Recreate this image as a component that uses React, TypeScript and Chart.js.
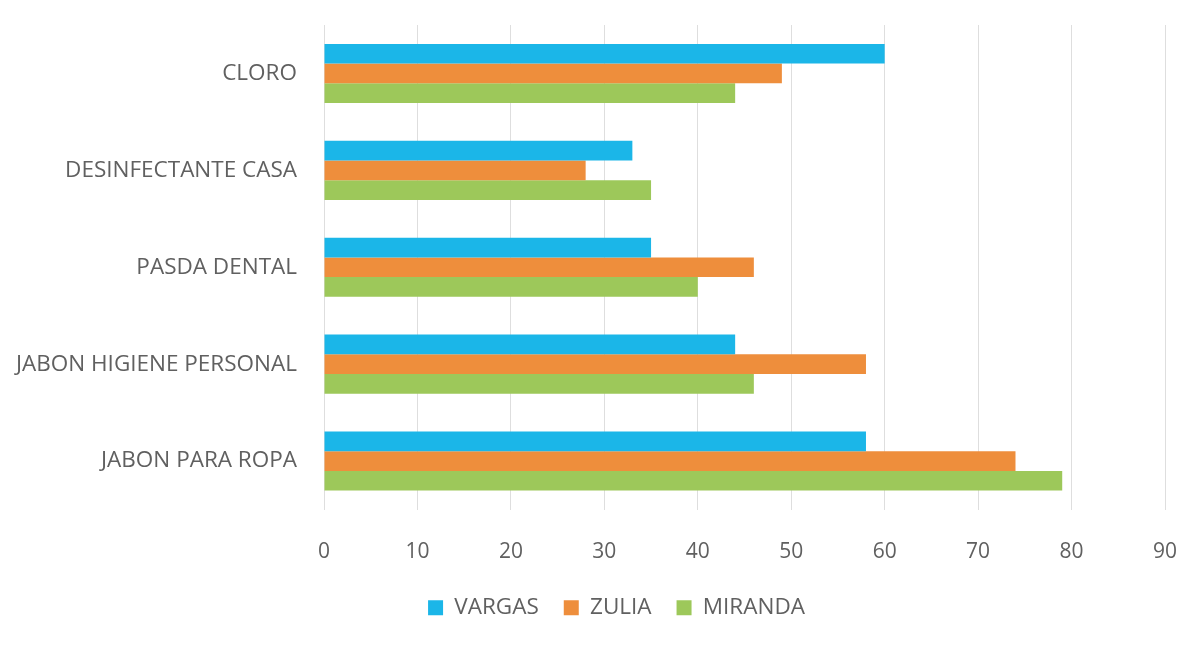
import React, { useEffect, useRef } from "react";
import { Chart, registerables } from "chart.js";

Chart.register(...registerables);

const categories = [
  "CLORO",
  "DESINFECTANTE CASA",
  "PASDA DENTAL",
  "JABON HIGIENE PERSONAL",
  "JABON PARA ROPA",
];
const vargas = [60, 33, 35, 44, 58];
const zulia = [49, 28, 46, 58, 74];
const miranda = [44, 35, 40, 46, 79];
const xTicks = [0, 10, 20, 30, 40, 50, 60, 70, 80, 90];

const FONT = "'Open Sans', 'Liberation Sans', sans-serif";
const TEXT = "#606060";

const legendShift = {
  id: "legendShift",
  afterLayout(chart: any) {
    const lg = chart.legend;
    if (lg) {
      lg.left += 34;
      lg.right += 34;
    }
  },
};

export default function App() {
  const ref = useRef<HTMLCanvasElement | null>(null);
  useEffect(() => {
    if (!ref.current) return;
    const chart = new Chart(ref.current, {
      type: "bar",
      data: {
        labels: categories,
        datasets: [
          { label: "VARGAS", data: vargas, backgroundColor: "#1bb6e8" },
          { label: "ZULIA", data: zulia, backgroundColor: "#ee8e3c" },
          { label: "MIRANDA", data: miranda, backgroundColor: "#9dc85a" },
        ],
      },
      plugins: [legendShift],
      options: {
        indexAxis: "y",
        responsive: false,
        animation: false,
        maintainAspectRatio: false,
        datasets: {
          bar: { barPercentage: 1, categoryPercentage: 0.61 },
        },
        layout: { padding: { left: 0, right: 32, top: 25, bottom: 21 } },
        scales: {
          x: {
            min: 0,
            max: 90,
            afterBuildTicks: (scale: any) => {
              scale.ticks = xTicks.map((v) => ({ value: v }));
            },
            afterFit: (scale: any) => {
              scale.height = 62;
              scale.paddingLeft = 0;
              scale.paddingRight = 0;
            },
            grid: { color: "#dedede", drawTicks: false, lineWidth: 1 },
            border: { display: false },
            ticks: {
              padding: 30,
              color: TEXT,
              font: { family: FONT, size: 21 },
            },
          },
          y: {
            afterFit: (scale: any) => {
              scale.width = 324;
              scale.paddingTop = 0;
              scale.paddingBottom = 0;
            },
            grid: { display: false },
            border: { display: false },
            ticks: {
              padding: 19,
              color: TEXT,
              font: { family: FONT, size: 22.5 },
            },
          },
        },
        plugins: {
          tooltip: { enabled: false },
          legend: {
            position: "bottom",
            labels: {
              boxWidth: 15,
              boxHeight: 15,
              padding: 25,
              color: TEXT,
              font: { family: FONT, size: 22.5 },
            },
          },
        },
      },
    });
    return () => chart.destroy();
  }, []);
  return (
    <div style={{ position: "fixed", left: 0, top: 0, width: 1197, height: 650, background: "#fff" }}>
      <canvas ref={ref} width={1197} height={650} style={{ width: 1197, height: 650 }} />
    </div>
  );
}
